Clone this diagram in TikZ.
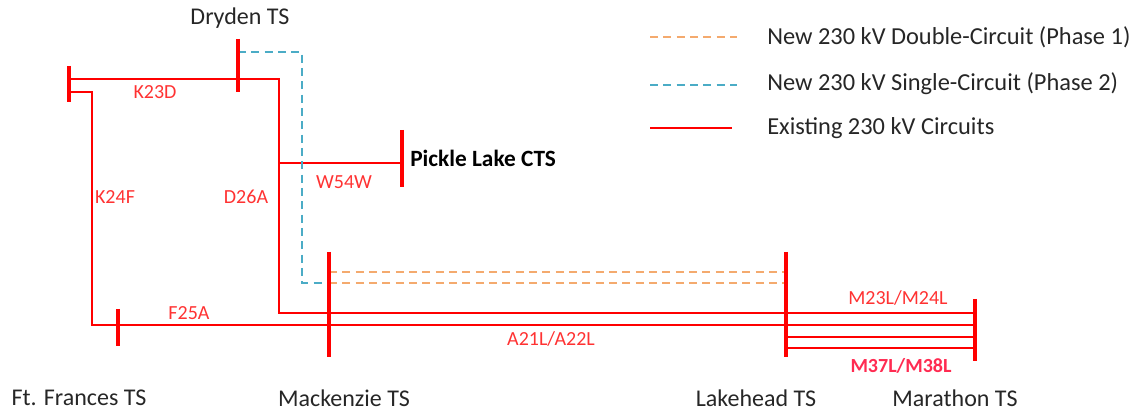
\documentclass[tikz,border=0pt]{standalone}
\usepackage{fontspec}
\setmainfont{Carlito}
\definecolor{linered}{RGB}{255,0,0}
\definecolor{labred}{RGB}{255,50,50}
\definecolor{newor}{RGB}{244,170,110}
\definecolor{newbl}{RGB}{75,172,198}
\definecolor{txt}{RGB}{38,38,38}
\begin{document}
\begin{tikzpicture}[x=0.75pt,y=-0.75pt,
  ckt/.style={draw=linered,line width=1.4pt},
  bus/.style={draw=linered,line width=3.6pt},
  dblc/.style={draw=newor,line width=1.3pt,dash pattern=on 6pt off 4pt},
  sglc/.style={draw=newbl,line width=1.3pt,dash pattern=on 6pt off 4pt},
  stn/.style={text=txt,font=\fontsize{18}{21}\selectfont,inner sep=0pt},
  lab/.style={text=labred,font=\fontsize{15}{18}\selectfont,inner sep=0pt},
  leg/.style={text=txt,font=\fontsize{18.3}{22}\selectfont,inner sep=0pt,anchor=west}]
\useasboundingbox (0,0) rectangle (1145,416);
% bus coordinates
\coordinate (kt) at (69,66); \coordinate (kb) at (69,102);
\coordinate (dt) at (238,39); \coordinate (db) at (238,92);
\coordinate (pt) at (402,130); \coordinate (pb) at (402,187);
\coordinate (ft) at (118,309); \coordinate (fb) at (118,346);
\coordinate (mt) at (329,252); \coordinate (mb) at (329,357);
\coordinate (lt) at (786,252); \coordinate (lb) at (786,357);
\coordinate (at) at (975,299); \coordinate (ab) at (975,361);
% connection points
\coordinate (k1) at (69,79); \coordinate (c1) at (279,79);
\coordinate (c2) at (279,313); \coordinate (a1) at (975,313);
\coordinate (w1) at (279,163); \coordinate (p1) at (402,163);
\coordinate (k2) at (69,92); \coordinate (c3) at (92,92);
\coordinate (c4) at (92,325); \coordinate (a2) at (975,325);
\coordinate (l3) at (786,337); \coordinate (a3) at (975,337);
\coordinate (l4) at (786,348); \coordinate (a4) at (975,348);
\coordinate (d1) at (238,52); \coordinate (b1) at (302,52);
\coordinate (b2) at (302,283); \coordinate (m1) at (329,283);
\coordinate (m2) at (329,272); \coordinate (l1) at (786,272);
\coordinate (l2) at (786,283);
% circuits
\draw[ckt] (k1) -- (c1) -- (c2) -- (a1);
\draw[ckt] (w1) -- (p1);
\draw[ckt] (k2) -- (c3) -- (c4) -- (a2);
\draw[ckt] (l3) -- (a3);
\draw[ckt] (l4) -- (a4);
\draw[sglc] (d1) -- (b1) -- (b2) -- (m1);
\draw[dblc] (m2) -- (l1);
\draw[dblc] (m1) -- (l2);
% buses
\draw[bus] (kt) -- (kb);
\draw[bus] (dt) -- (db);
\draw[bus] (pt) -- (pb);
\draw[bus] (ft) -- (fb);
\draw[bus] (mt) -- (mb);
\draw[bus] (lt) -- (lb);
\draw[bus] (at) -- (ab);
% station labels
\node[stn] (ndry) at (240,18) {Dryden TS};
\node[stn,anchor=west,font=\fontsize{17.5}{21}\selectfont\bfseries,text=black] (npl) at (410,158) {Pickle Lake CTS};
\node[stn] (nff) at (79,398) {Ft. Frances TS};
\node[stn] (nmk) at (344,398) {Mackenzie TS};
\node[stn] (nlh) at (756,398) {Lakehead TS};
\node[stn] (nmr) at (955,398) {Marathon TS};
% circuit labels
\node[lab] (nk23) at (155,92) {K23D};
\node[lab] (nw54) at (344,182) {W54W};
\node[lab] (nk24) at (115,197) {K24F};
\node[lab] (nd26) at (246,197) {D26A};
\node[lab] (nf25) at (189,313) {F25A};
\node[lab] (na21) at (551,339) {A21L/A22L};
\node[lab] (nm23) at (898,298) {M23L/M24L};
\node[lab,font=\fontsize{15}{18}\selectfont\bfseries,text=labred!85!magenta] (nm37) at (901,366) {M37L/M38L};
% legend
\coordinate (g1a) at (650,37); \coordinate (g1b) at (737,37);
\coordinate (g2a) at (650,85); \coordinate (g2b) at (737,85);
\coordinate (g3a) at (650,128); \coordinate (g3b) at (732,128);
\draw[dblc] (g1a) -- (g1b);
\draw[sglc] (g2a) -- (g2b);
\draw[ckt] (g3a) -- (g3b);
\node[leg] (t1) at (767,37) {New 230 kV Double-Circuit (Phase 1)};
\node[leg] (t2) at (767,84) {New 230 kV Single-Circuit (Phase 2)};
\node[leg] (t3) at (767,128) {Existing 230 kV Circuits};
\end{tikzpicture}
\end{document}
